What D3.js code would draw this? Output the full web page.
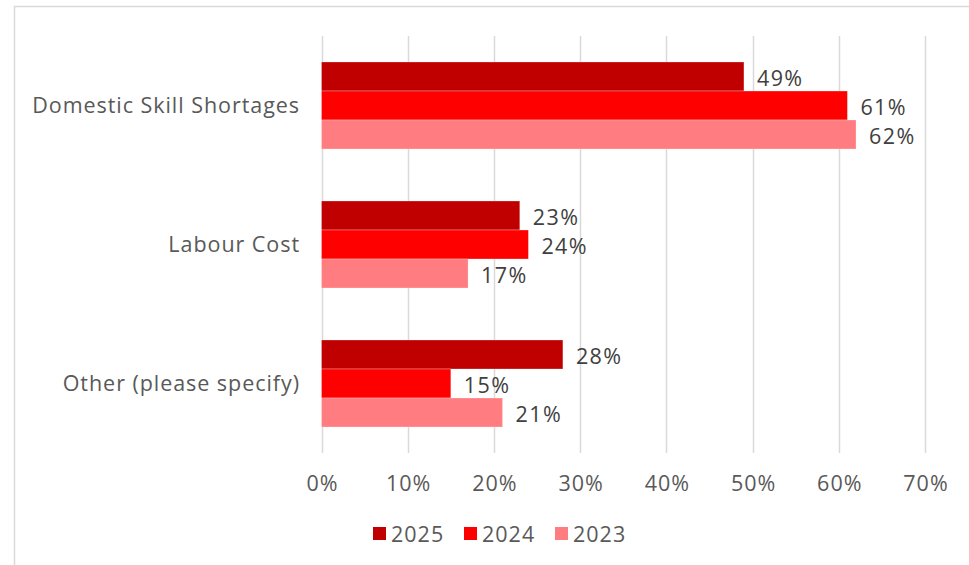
<!DOCTYPE html>
<html>
<head>
<meta charset="utf-8">
<script src="https://cdn.jsdelivr.net/npm/d3@7/dist/d3.min.js"></script>
<style>
  html, body { margin: 0; padding: 0; background: #fff; }
  svg { display: block; }
  svg text { font-family: "Open Sans", "Noto Sans", sans-serif; }
</style>
</head>
<body>
<svg id="chart" width="969" height="565"></svg>
<script>
// Reasons for hiring, by survey year
const categories = ["Domestic Skill Shortages", "Labour Cost", "Other (please specify)"];
const years = ["2025", "2024", "2023"];
const values2025 = [0.49, 0.23, 0.28];
const values2024 = [0.61, 0.24, 0.15];
const values2023 = [0.62, 0.17, 0.21];
const tickValues = [0, 0.1, 0.2, 0.3, 0.4, 0.5, 0.6, 0.7];
const colors = ["#C00000", "#FF0000", "#FF7C80"];

const seriesValues = [values2025, values2024, values2023];
const rows = categories.map((c, i) => ({
  category: c,
  values: years.map((y, j) => ({ year: y, value: seriesValues[j][i], color: colors[j] }))
}));

const FONT = "'Open Sans', 'Noto Sans', sans-serif";
const FS = 21.5;
const svg = d3.select("#chart");
const plot = { left: 321.5, right: 925, top: 36, bottom: 453 };

// outer chart frame (left and top edges visible)
svg.append("rect")
  .attr("x", 14.5).attr("y", 6.5)
  .attr("width", 1000).attr("height", 1000)
  .attr("fill", "#fff").attr("stroke", "#D9D9D9").attr("stroke-width", 1.5);

const x = d3.scaleLinear().domain([0, 0.7]).range([plot.left, plot.right]);
const y0 = d3.scaleBand().domain(categories).range([plot.top, plot.bottom])
  .paddingInner(0.374).paddingOuter(0.187);
const y1 = d3.scaleBand().domain(years).range([0, y0.bandwidth()]);

// vertical gridlines
svg.append("g")
  .selectAll("line")
  .data(tickValues)
  .join("line")
  .attr("x1", d => Math.round(x(d)) + 0.5).attr("x2", d => Math.round(x(d)) + 0.5)
  .attr("y1", plot.top).attr("y2", plot.bottom)
  .attr("stroke", "#D9D9D9").attr("stroke-width", 1.5);

// x axis labels
const xAxis = d3.axisBottom(x).tickValues(tickValues).tickFormat(d3.format(".0%")).tickSize(0).tickPadding(0);
const gx = svg.append("g").attr("transform", `translate(0,${plot.bottom + 30})`).call(xAxis)
  .attr("font-family", FONT).attr("font-size", FS);
gx.select(".domain").remove();
gx.selectAll("text")
  .attr("fill", "#595959").attr("dy", "0.35em").attr("y", 0)
  .attr("letter-spacing", 1).attr("dx", 0.5);

// category labels
const yAxis = d3.axisLeft(y0).tickSize(0).tickPadding(0);
const gy = svg.append("g").attr("transform", `translate(300,0)`).call(yAxis)
  .attr("font-family", FONT).attr("font-size", FS);
gy.select(".domain").remove();
gy.selectAll("text")
  .attr("fill", "#595959").attr("dy", "0.35em").attr("x", 0)
  .attr("letter-spacing", 0.95);

// bars
const groups = svg.append("g").selectAll("g")
  .data(rows)
  .join("g")
  .attr("transform", d => `translate(0,${y0(d.category)})`);

groups.selectAll("rect")
  .data(d => d.values)
  .join("rect")
  .attr("x", x(0))
  .attr("y", d => y1(d.year))
  .attr("width", d => x(d.value) - x(0))
  .attr("height", y1.bandwidth())
  .attr("fill", d => d.color)
  .attr("stroke", "#fff").attr("stroke-opacity", 0.35).attr("stroke-width", 0.8);

// value labels
groups.selectAll("text")
  .data(d => d.values)
  .join("text")
  .attr("x", d => x(d.value) + 13)
  .attr("y", d => y1(d.year) + y1.bandwidth() / 2 + 2)
  .attr("dy", "0.35em")
  .attr("fill", "#404040")
  .attr("font-size", FS)
  .attr("letter-spacing", 1.4)
  .text(d => d3.format(".0%")(d.value));

// legend
const legendItems = years.map((y, i) => ({ year: y, color: colors[i] }));
const legendX = [373, 464, 555];
const legend = svg.append("g").selectAll("g")
  .data(legendItems)
  .join("g")
  .attr("transform", (d, i) => `translate(${legendX[i]},527)`);
legend.append("rect").attr("width", 13).attr("height", 13).attr("fill", d => d.color);
legend.append("text")
  .attr("x", 18).attr("y", 7).attr("dy", "0.35em")
  .attr("fill", "#595959").attr("font-size", FS)
  .attr("letter-spacing", 1)
  .text(d => d.year);
</script>
</body>
</html>
